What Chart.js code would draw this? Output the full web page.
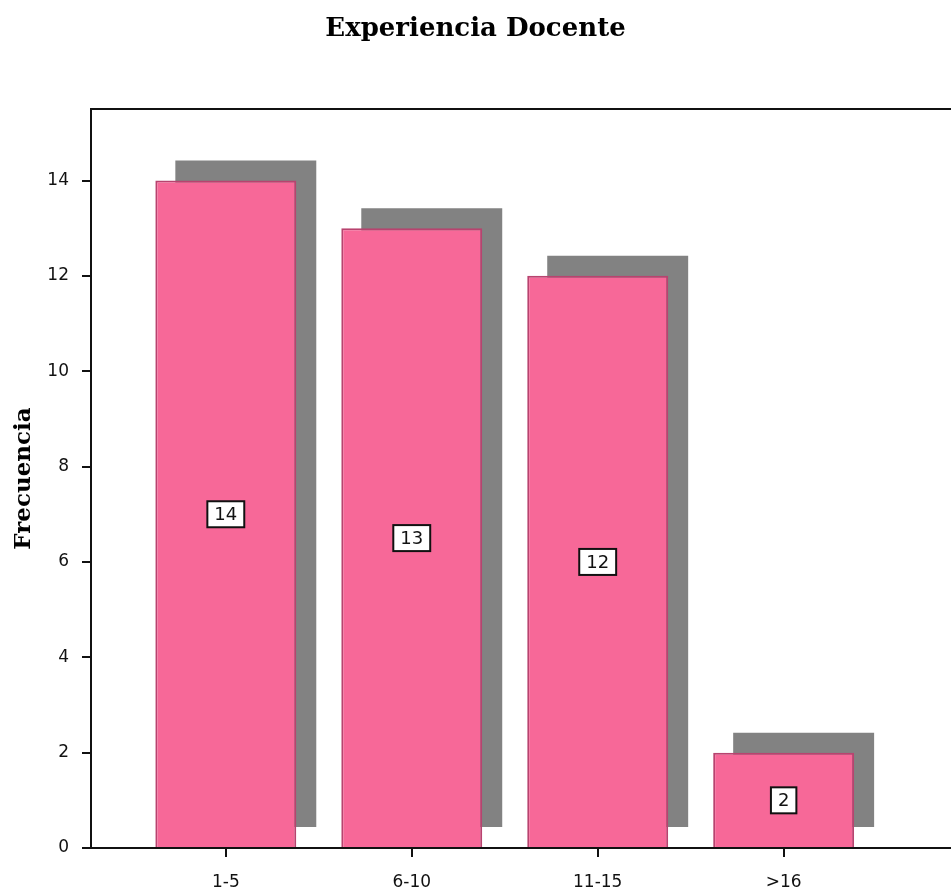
<!DOCTYPE html>
<html>
<head>
<meta charset="utf-8">
<script src="https://cdn.jsdelivr.net/npm/chart.js@4/dist/chart.umd.min.js"></script>
<style>
  body { margin: 0; background: #fff; overflow: hidden; }
</style>
</head>
<body>
<canvas id="chart" width="951" height="891"></canvas>
<script>
// datos del grafico
const categorias = ['1-5', '6-10', '11-15', '>16'];
const frecuencias = [14, 13, 12, 2];
const yTicks = [0, 2, 4, 6, 8, 10, 12, 14];

// sombra gris detras de cada barra
const sombraPlugin = {
  id: 'sombra',
  beforeDatasetDraw(chart, args) {
    if (args.index === 1) {
      chart.ctx.save();
      chart.ctx.translate(20, -20);
    }
  },
  afterDatasetDraw(chart, args) {
    if (args.index === 1) chart.ctx.restore();
  }
};

// marco superior y etiquetas con caja
const marcoPlugin = {
  id: 'marco',
  afterDraw(chart) {
    const ctx = chart.ctx;
    const a = chart.chartArea;
    ctx.save();
    ctx.strokeStyle = '#111';
    ctx.lineWidth = 2;
    ctx.beginPath();
    ctx.moveTo(a.left, a.top);
    ctx.lineTo(a.right, a.top);
    ctx.stroke();

    const meta = chart.getDatasetMeta(0);
    ctx.font = '18px "DejaVu Sans"';
    ctx.textAlign = 'center';
    ctx.textBaseline = 'middle';
    meta.data.forEach((bar, i) => {
      const txt = String(frecuencias[i]);
      const y = chart.scales.y.getPixelForValue(frecuencias[i] / 2);
      const w = ctx.measureText(txt).width + 14;
      const h = 26;
      ctx.fillStyle = '#fff';
      ctx.fillRect(bar.x - w / 2, y - h / 2, w, h);
      ctx.strokeStyle = '#111';
      ctx.lineWidth = 2;
      ctx.strokeRect(bar.x - w / 2, y - h / 2, w, h);
      ctx.fillStyle = '#111';
      ctx.fillText(txt, bar.x, y + 1);
    });
    ctx.restore();
  }
};

new Chart(document.getElementById('chart'), {
  type: 'bar',
  data: {
    datasets: [{
      label: 'Frecuencia',
      data: frecuencias.map((v, i) => ({ x: i, y: v })),
      backgroundColor: '#F76898',
      borderColor: '#B8436F',
      borderWidth: 2,
      grouped: false
    }, {
      label: 'sombra',
      data: frecuencias.map((v, i) => ({ x: i, y: v })),
      backgroundColor: '#828282',
      borderWidth: 0,
      grouped: false
    }]
  },
  options: {
    responsive: false,
    animation: false,
    barPercentage: 0.758,
    categoryPercentage: 1,
    layout: { padding: { left: 0, right: 0, top: 0, bottom: 0 } },
    plugins: {
      legend: { display: false },
      tooltip: { enabled: false },
      title: {
        display: true,
        text: 'Experiencia Docente',
        color: '#000',
        font: { family: 'DejaVu Serif', size: 26, weight: 'bold' },
        padding: { top: 14, bottom: 63.8 }
      }
    },
    scales: {
      x: {
        type: 'linear',
        offset: false,
        min: -0.725,
        max: 3.9,
        afterBuildTicks: (s) => { s.ticks = categorias.map((c, i) => ({ value: i })); },
        afterFit: (s) => { s.height = 43; },
        ticks: {
          callback: (v) => categorias[v],
          autoSkip: false,
          maxRotation: 0,
          padding: 15,
          color: '#111',
          font: { family: 'DejaVu Sans', size: 17 }
        },
        grid: { offset: false, drawOnChartArea: false, drawTicks: true, tickLength: 9, color: '#111', lineWidth: 2 },
        border: { color: '#111', width: 2 }
      },
      y: {
        min: 0,
        max: 15.5,
        afterBuildTicks: (s) => { s.ticks = yTicks.map(v => ({ value: v })); },
        afterFit: (s) => { s.width = 91; },
        ticks: {
          padding: 13,
          color: '#111',
          font: { family: 'DejaVu Sans', size: 17 }
        },
        grid: { drawOnChartArea: false, drawTicks: true, tickLength: 9, color: '#111', lineWidth: 2 },
        border: { color: '#111', width: 2 },
        title: {
          display: true,
          text: 'Frecuencia',
          color: '#000',
          font: { family: 'DejaVu Serif', size: 23, weight: 'bold' },
          padding: { top: 10, bottom: 0 }
        }
      }
    }
  },
  plugins: [sombraPlugin, marcoPlugin]
});
</script>
</body>
</html>
